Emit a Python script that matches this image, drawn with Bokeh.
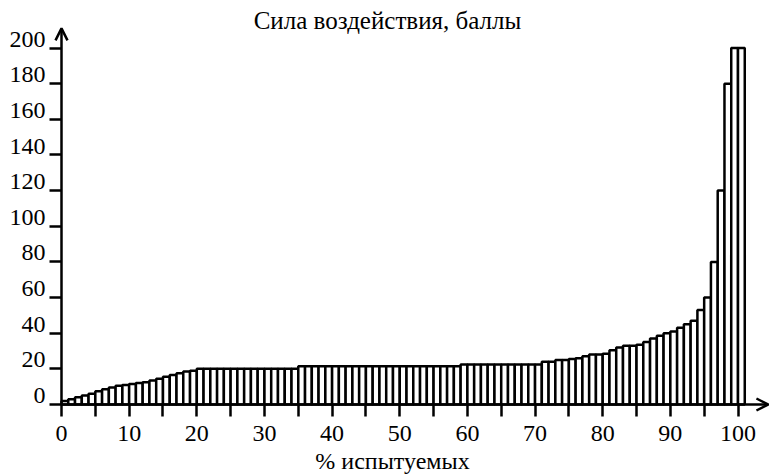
from bokeh.plotting import figure
from bokeh.models import (Range1d, FixedTicker, Arrow, OpenHead, Label,
                          ColumnDataSource, LinearAxis)
from bokeh.embed import file_html
from bokeh.resources import INLINE

# --- data ---
percent = list(range(101))
scores = [
    2, 3, 4, 5, 6, 7.5, 8.5, 9.5, 10.5, 11,
    11.5, 12, 12.5, 13.5, 14.5, 15.5, 16.5, 17.5, 18.5, 19,
    20, 20, 20, 20, 20, 20, 20, 20, 20, 20,
    20, 20, 20, 20, 20, 21.5, 21.5, 21.5, 21.5, 21.5,
    21.5, 21.5, 21.5, 21.5, 21.5, 21.5, 21.5, 21.5, 21.5, 21.5,
    21.5, 21.5, 21.5, 21.5, 21.5, 21.5, 21.5, 21.5, 21.5, 22.5,
    22.5, 22.5, 22.5, 22.5, 22.5, 22.5, 22.5, 22.5, 22.5, 22.5,
    22.5, 24, 24, 25, 25, 25.5, 26, 27, 28, 28,
    28.5, 30.5, 32, 33, 33, 33.5, 35, 37, 38.5, 40,
    41, 43, 45, 47, 53, 60, 80, 120, 180, 200,
    200,
]
x_ticks = [0, 10, 20, 30, 40, 50, 60, 70, 80, 90, 100]
x_minor = [5, 15, 25, 35, 45, 55, 65, 75, 85, 95]
y_ticks = [0, 20, 40, 60, 80, 100, 120, 140, 160, 180, 200]

title_text = "Сила воздействия, баллы"
xlabel_text = "% испытуемых"

FONT = "Liberation Serif"
W, H = 780, 476
X0, Y0 = 61.0, 404.0          # screen position of data origin
SX, SY = 6.765, 1.7825        # px per data unit
x_start, x_end = -X0 / SX, (W - X0) / SX
y_start, y_end = -(H - Y0) / SY, Y0 / SY

src = ColumnDataSource(dict(x=[v + 0.5 for v in percent], top=scores))

p = figure(width=W, height=H, output_backend="svg", toolbar_location=None,
           x_range=Range1d(x_start, x_end), y_range=Range1d(y_start, y_end),
           min_border_left=0, min_border_right=0, min_border_top=0,
           min_border_bottom=0)
p.title.visible = False
p.outline_line_color = None
p.grid.visible = False
p.background_fill_color = "white"
p.border_fill_color = "white"

p.vbar(x="x", top="top", width=1, bottom=0, source=src,
       fill_color="white", line_color="black", line_width=2.5)

# x axis placed at y = 0
xa = p.xaxis[0]
xa.fixed_location = 0
xa.ticker = FixedTicker(ticks=x_ticks, minor_ticks=x_minor)
xa.axis_line_color = None
xa.major_tick_in = 0
xa.major_tick_out = 12
xa.major_tick_line_width = 2.5
xa.major_tick_line_color = "black"
xa.minor_tick_in = 0
xa.minor_tick_out = 12
xa.minor_tick_line_width = 2.5
xa.minor_tick_line_color = "black"
xa.major_label_text_font = FONT
xa.major_label_text_font_size = "24px"
xa.major_label_text_color = "black"
xa.major_label_standoff = 9

# y axis (ticks only) placed at x = 0
ya = p.yaxis[0]
ya.fixed_location = 0
ya.ticker = FixedTicker(ticks=y_ticks)
ya.axis_line_color = None
ya.major_tick_in = 0
ya.major_tick_out = 12
ya.major_tick_line_width = 2.5
ya.major_tick_line_color = "black"
ya.minor_tick_line_color = None
ya.major_label_overrides = {v: "" for v in y_ticks}

# y tick labels sit on the tick line (baseline style): shifted label axis
shift = 5.0
p.extra_y_ranges = {"ylab": Range1d(y_start - shift, y_end - shift)}
yl = LinearAxis(y_range_name="ylab", ticker=FixedTicker(ticks=y_ticks),
                fixed_location=0)
yl.axis_line_color = None
yl.major_tick_in = 0
yl.major_tick_out = 12
yl.major_tick_line_color = None
yl.minor_tick_line_color = None
yl.major_label_text_font = FONT
yl.major_label_text_font_size = "24px"
yl.major_label_text_color = "black"
yl.major_label_standoff = 4
p.add_layout(yl, "left")

# axis lines with arrow heads
p.add_layout(Arrow(x_start=0, y_start=0, x_end=0, y_end=211,
                   line_width=2.5, line_color="black",
                   end=OpenHead(size=12, line_width=2.5, line_color="black")))
p.add_layout(Arrow(x_start=0, y_start=0, x_end=104.5, y_end=0,
                   line_width=2.5, line_color="black",
                   end=OpenHead(size=12, line_width=2.5, line_color="black")))

# title and x-axis caption
p.add_layout(Label(x=(387 - X0) / SX, y=(Y0 - 20) / SY, text=title_text,
                   text_align="center", text_baseline="alphabetic",
                   text_font=FONT, text_font_size="25px", text_color="black"))
p.add_layout(Label(x=(392 - X0) / SX, y=(Y0 - 460) / SY, text=xlabel_text,
                   text_align="center", text_baseline="alphabetic",
                   text_font=FONT, text_font_size="24px", text_color="black"))

open("out.html", "w").write(file_html(p, INLINE))
